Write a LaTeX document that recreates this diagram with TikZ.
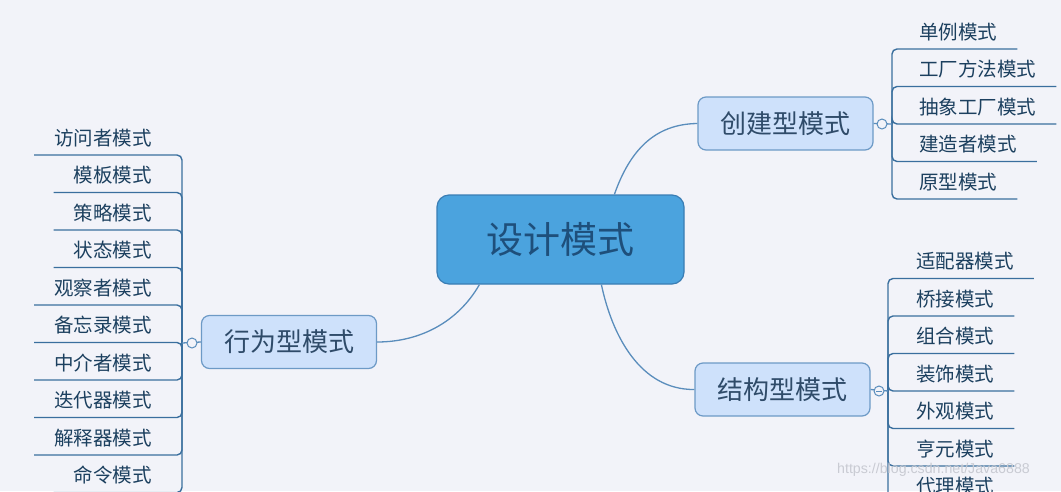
\documentclass[tikz,border=0pt]{standalone}
\usepackage{fontspec}
\setmainfont{Noto Sans CJK SC}
\newfontfamily\wmfont{Liberation Sans}
\usetikzlibrary{calc}
\definecolor{bgc}{HTML}{F2F3F9}
\definecolor{ctrfill}{HTML}{4BA3DE}
\definecolor{ctrdraw}{HTML}{3A7DB4}
\definecolor{ctrtext}{HTML}{1E4F7B}
\definecolor{catfill}{HTML}{CEE1FB}
\definecolor{catdraw}{HTML}{6D9AC6}
\definecolor{cattext}{HTML}{2F4B69}
\definecolor{linec}{HTML}{5A8DBC}
\definecolor{brk}{HTML}{3A6F9E}
\definecolor{leaftext}{HTML}{1C405F}
\definecolor{wmc}{HTML}{C9CBD3}
\begin{document}
\begin{tikzpicture}[x=1pt,y=-1pt,
 ctrbox/.style={draw=ctrdraw, fill=ctrfill, line width=1.2pt, rounded corners=12pt, minimum width=247pt, minimum height=89pt, text=ctrtext, font=\fontsize{37}{40}\selectfont},
 catbox/.style={draw=catdraw, fill=catfill, line width=1.2pt, rounded corners=8pt, minimum width=175pt, minimum height=53pt, text=cattext, font=\fontsize{26}{28}\selectfont},
 leaf/.style={inner xsep=20pt, inner ysep=0pt, minimum height=34pt, text=leaftext, font=\fontsize{19.5}{22}\selectfont},
 knob/.style={circle, draw=linec, fill=bgc, line width=1pt, minimum size=10pt, inner sep=0pt},
 conn/.style={draw=linec, line width=1.3pt},
 brace/.style={draw=brk, line width=1.4pt, rounded corners=5pt}
]
\useasboundingbox (0,0) rectangle (1061,491);
\fill[bgc] (0,0) rectangle (1061,491);
\clip (0,0) rectangle (1061,491);

% main and category nodes
\node[ctrbox] (ctr) at (560.5,239.5) {设计模式};
\node[catbox] (cj) at (785.5,123.5) {创建型模式};
\node[catbox] (jg) at (782.5,389.5) {结构型模式};
\node[catbox] (xw) at (289,342) {行为型模式};

% curves from center
\draw[conn] ($(ctr.north west)+(178,0)$) .. controls (630,150) and (655,124) .. (cj.west);
\draw[conn] ($(ctr.south west)+(165,0)$) .. controls (612,335) and (640,390) .. (jg.west);
\draw[conn] ($(ctr.south west)+(43,0)$) .. controls (458,322) and (420,342) .. (xw.east);

% knob positions and bracket points
\coordinate (cjb) at (892,124);
\coordinate (jgb) at (888,391);
\coordinate (xwb) at (182,343);

% creational leaves
\node[leaf, anchor=south west] (c1) at (899,49) {单例模式};
\node[leaf, anchor=south west] (c2) at (899,86.5) {工厂方法模式};
\node[leaf, anchor=south west] (c3) at (899,124) {抽象工厂模式};
\node[leaf, anchor=south west] (c4) at (899,161.5) {建造者模式};
\node[leaf, anchor=south west] (c5) at (899,199) {原型模式};
\foreach \n in {c1,c2,c3,c4,c5}
  \draw[brace] (cjb) |- (\n.south east);

% structural leaves
\node[leaf, anchor=south west] (s1) at (896,278.5) {适配器模式};
\node[leaf, anchor=south west] (s2) at (896,316) {桥接模式};
\node[leaf, anchor=south west] (s3) at (896,353.5) {组合模式};
\node[leaf, anchor=south west] (s4) at (896,391) {装饰模式};
\node[leaf, anchor=south west] (s5) at (896,428.5) {外观模式};
\node[leaf, anchor=south west] (s6) at (896,466) {亨元模式};
\node[leaf, anchor=south west] (s7) at (896,503.5) {代理模式};
\foreach \n in {s1,s2,s3,s4,s5,s6,s7}
  \draw[brace] (jgb) |- (\n.south east);

% behavioral leaves
\node[leaf, anchor=south east] (b1) at (172,155) {访问者模式};
\node[leaf, anchor=south east] (b2) at (172,192.5) {模板模式};
\node[leaf, anchor=south east] (b3) at (172,230) {策略模式};
\node[leaf, anchor=south east] (b4) at (172,267.5) {状态模式};
\node[leaf, anchor=south east] (b5) at (172,305) {观察者模式};
\node[leaf, anchor=south east] (b6) at (172,342.5) {备忘录模式};
\node[leaf, anchor=south east] (b7) at (172,380) {中介者模式};
\node[leaf, anchor=south east] (b8) at (172,417.5) {迭代器模式};
\node[leaf, anchor=south east] (b9) at (172,455) {解释器模式};
\node[leaf, anchor=south east] (b10) at (172,492.5) {命令模式};
\foreach \n in {b1,b2,b3,b4,b5,b6,b7,b8,b9,b10}
  \draw[brace] (xwb) |- (\n.south west);

% knobs
\draw[conn] (cj.east) -- (cjb);
\draw[conn] (jg.east) -- (jgb);
\draw[conn] (xw.west) -- (xwb);
\node[knob] (cjk) at (882,124) {};
\node[knob] (jgk) at (879,391) {};
\node[knob] (xwk) at (192,343) {};
\draw[draw=linec, line width=0.9pt] ($(jgk.center)+(-3,0)$) -- ($(jgk.center)+(3,0)$);

% watermark
\node[text=wmc, font=\wmfont\fontsize{14.2}{17}\selectfont, anchor=west, inner sep=0pt] (wm) at (837,470) {https://blog.csdn.net/Java6888};
\end{tikzpicture}
\end{document}
